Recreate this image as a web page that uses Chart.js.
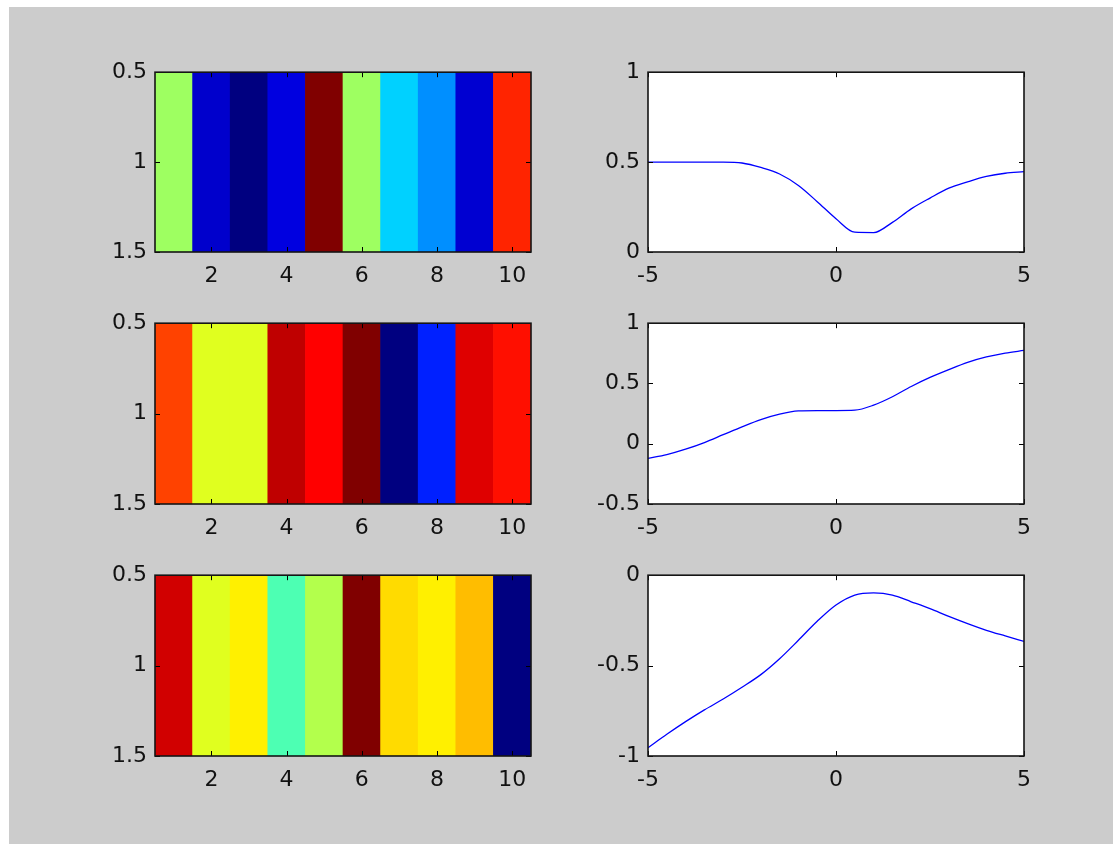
<!DOCTYPE html>
<html><head><meta charset="utf-8">
<script src="https://cdn.jsdelivr.net/npm/chart.js@4/dist/chart.umd.min.js"></script>
<style>
html,body{margin:0;padding:0;background:#fff;width:1113px;height:844px;overflow:hidden}
#fig{position:absolute;left:9px;top:7px;right:0;bottom:0;background:#cccccc}
canvas{position:absolute}
</style></head><body><div id="fig"></div>
<script>
// ---- data ----
const columns = [1, 2, 3, 4, 5, 6, 7, 8, 9, 10];
const imgTicksX = [2, 4, 6, 8, 10];
const imgTicksY = [0.5, 1, 1.5];
// normalised colour-scale values (0 = dark blue, 1 = dark red) of each image cell
const img1 = [0.53, 0.075, 0.0, 0.095, 1.0, 0.53, 0.33, 0.265, 0.08, 0.84];
const img2 = [0.81, 0.595, 0.595, 0.9375, 0.875, 1.0, 0.0, 0.156, 0.906, 0.86];
const img3 = [0.92, 0.595, 0.64, 0.45, 0.55, 1.0, 0.66, 0.64, 0.69, 0.0];

const lineX = [-5, -4.5, -4, -3.5, -3, -2.5, -2, -1.5, -1, -0.5, 0, 0.5, 1, 1.5, 2, 2.5, 3, 3.5, 4, 4.5, 5];
const line1 = [0.5, 0.5, 0.5, 0.5, 0.5, 0.495, 0.47, 0.434, 0.37, 0.28, 0.185, 0.11, 0.108, 0.165, 0.24, 0.30, 0.355, 0.39, 0.42, 0.438, 0.447];
const line2 = [-0.122, -0.09, -0.045, 0.01, 0.075, 0.14, 0.20, 0.245, 0.272, 0.275, 0.275, 0.278, 0.32, 0.39, 0.475, 0.55, 0.615, 0.675, 0.72, 0.752, 0.774];
const line3 = [-0.954, -0.88, -0.81, -0.745, -0.685, -0.62, -0.55, -0.462, -0.36, -0.255, -0.165, -0.11, -0.098, -0.11, -0.147, -0.185, -0.228, -0.268, -0.305, -0.336, -0.366];
const lineTicksX = [-5, 0, 5];
const line1TicksY = [0, 0.5, 1];
const line2TicksY = [-0.5, 0, 0.5, 1];
const line3TicksY = [-1, -0.5, 0];

// ---- helpers ----
function clamp(v){ return Math.max(0, Math.min(1, v)); }
function jet(t){
  const r = clamp(1.5 - Math.abs(4*t - 3));
  const g = clamp(1.5 - Math.abs(4*t - 2));
  const b = clamp(1.5 - Math.abs(4*t - 1));
  return 'rgb(' + Math.round(r*255) + ',' + Math.round(g*255) + ',' + Math.round(b*255) + ')';
}
const FONT = {family: "'DejaVu Sans', sans-serif", size: 22};
const PADL = 70, PADT = 20, PADR = 25, PADB = 45;

const boxPlugin = {
  id: 'mbox',
  afterDatasetsDraw(chart){
    const {ctx, chartArea: {left, right, top, bottom}, scales: {x, y}} = chart;
    ctx.save();
    ctx.strokeStyle = '#000';
    ctx.lineWidth = 1;
    const tl = 5;
    ctx.beginPath();
    x.ticks.forEach(t => {
      const px = Math.round(x.getPixelForValue(t.value)) + 0.5;
      ctx.moveTo(px, top); ctx.lineTo(px, top + tl);
      ctx.moveTo(px, bottom); ctx.lineTo(px, bottom - tl);
    });
    y.ticks.forEach(t => {
      const py = Math.round(y.getPixelForValue(t.value)) + 0.5;
      ctx.moveTo(left, py); ctx.lineTo(left + tl, py);
      ctx.moveTo(right, py); ctx.lineTo(right - tl, py);
    });
    ctx.stroke();
    ctx.lineWidth = 1.6;
    ctx.strokeStyle = '#151515';
    ctx.strokeRect(left, top, right - left, bottom - top);
    ctx.restore();
  }
};

function makeCanvas(box){
  const c = document.createElement('canvas');
  const w = box.R - box.L + PADL + PADR;
  const h = box.B - box.T + PADT + PADB;
  c.width = w; c.height = h;
  c.style.left = (box.L - PADL) + 'px';
  c.style.top = (box.T - PADT) + 'px';
  c.style.width = w + 'px'; c.style.height = h + 'px';
  document.body.appendChild(c);
  return c;
}

function axisCommon(ticksArr, isX){
  return {
    grid: {display: false, drawTicks: false},
    border: {display: false},
    ticks: {font: FONT, color: '#111', padding: isX ? 11 : 8, autoSkip: false, maxRotation: 0,
            callback: v => String(v)},
    afterBuildTicks: s => { s.ticks = ticksArr.map(v => ({value: v})); },
    afterFit: s => { if (isX) s.height = PADB; else s.width = PADL; }
  };
}

function baseOptions(){
  return {
    responsive: false, animation: false, devicePixelRatio: 1,
    layout: {padding: {top: PADT, right: PADR, left: 0, bottom: 0}},
    plugins: {legend: {display: false}, tooltip: {enabled: false}}
  };
}

function imageChart(box, vals){
  const opts = baseOptions();
  opts.scales = {
    x: Object.assign({type: 'linear', min: 0.5, max: 10.5, offset: false}, axisCommon(imgTicksX, true)),
    y: Object.assign({type: 'linear', min: 0.5, max: 1.5, reverse: true}, axisCommon(imgTicksY, false))
  };
  new Chart(makeCanvas(box), {
    type: 'bar',
    data: {datasets: [{
      data: columns.map(c => ({x: c, y: [0.5, 1.5]})),
      backgroundColor: vals.map(jet),
      borderWidth: 0, barPercentage: 1, categoryPercentage: 1
    }]},
    options: opts,
    plugins: [boxPlugin]
  });
}

function lineChart(box, ys, yMin, yMax, yTicks){
  const opts = baseOptions();
  opts.scales = {
    x: Object.assign({type: 'linear', min: -5, max: 5}, axisCommon(lineTicksX, true)),
    y: Object.assign({type: 'linear', min: yMin, max: yMax}, axisCommon(yTicks, false))
  };
  new Chart(makeCanvas(box), {
    type: 'line',
    data: {datasets: [{
      data: lineX.map((x, i) => ({x: x, y: ys[i]})),
      borderColor: '#0000ff', borderWidth: 1.3, pointRadius: 0,
      cubicInterpolationMode: 'monotone', fill: false
    }]},
    options: Object.assign(opts, {chartAreaBackground: '#fff'}),
    plugins: [{id: 'bg', beforeDatasetsDraw(chart){
      const {ctx, chartArea: a} = chart;
      ctx.save(); ctx.fillStyle = '#ffffff'; ctx.fillRect(a.left, a.top, a.right - a.left, a.bottom - a.top); ctx.restore();
    }}, boxPlugin]
  });
}

const rows = [{T: 71, B: 252}, {T: 322, B: 504}, {T: 574, B: 756}];
const leftCol = {L: 155, R: 531};
const rightCol = {L: 648, R: 1024};
const box = (c, r) => ({L: c.L, R: c.R, T: r.T, B: r.B});

imageChart(box(leftCol, rows[0]), img1);
imageChart(box(leftCol, rows[1]), img2);
imageChart(box(leftCol, rows[2]), img3);
lineChart(box(rightCol, rows[0]), line1, 0, 1, line1TicksY);
lineChart(box(rightCol, rows[1]), line2, -0.5, 1, line2TicksY);
lineChart(box(rightCol, rows[2]), line3, -1, 0, line3TicksY);
</script>
</body></html>
